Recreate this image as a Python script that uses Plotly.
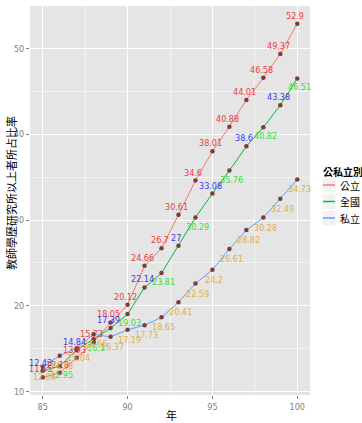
import plotly.graph_objects as go

years = list(range(85, 101))
series_names = ["公立", "全國", "私立"]
public = [11.65, 12.18, 13.93, 15.73, 18.05, 20.12, 24.66, 26.7, 30.61, 34.6,
          38.01, 40.88, 44.01, 46.58, 49.37, 52.9]
national = [12.43, 12.95, 14.84, 16.1, 17.39, 19.03, 22.14, 23.81, 27, 30.29,
            33.08, 35.76, 38.6, 40.82, 43.38, 46.51]
private = [12.86, 14.18, 15.04, 16.66, 16.37, 17.19, 17.73, 18.65, 20.41, 22.59,
           24.2, 26.61, 28.82, 30.28, 32.49, 34.73]
x_ticks = [85, 90, 95, 100]
y_ticks = [10, 20, 30, 40, 50]

LINE_COLORS = {"公立": "#F8766D", "全國": "#00BA38", "私立": "#619CFF"}
RED, BLUE, GREEN, GOLD = "#F03C3C", "#3C3CF0", "#3CDC3C", "#E0B048"
NUM_FONT = "Liberation Sans Narrow, DejaVu Sans Condensed, Arial Narrow, sans-serif"
CJK_FONT = "Noto Sans CJK TC, Noto Sans CJK SC, sans-serif"

values = {"公立": public, "全國": national, "私立": private}

fig = go.Figure()

for name in series_names:
    fig.add_trace(
        go.Scatter(
            x=years,
            y=values[name],
            mode="lines",
            line=dict(color=LINE_COLORS[name], width=1),
            showlegend=False,
            hoverinfo="skip",
        )
    )

for name in series_names:
    fig.add_trace(
        go.Scatter(
            x=years,
            y=values[name],
            mode="markers",
            marker=dict(color="#7D3C35", size=4.5),
            showlegend=False,
        )
    )

# value labels, colours recycled like the original
annotations = []
for name in series_names:
    for i, (yr, v) in enumerate(zip(years, values[name])):
        if name == "公立":
            color, xs, ys = RED, -2, 8
        elif name == "全國":
            if i % 2 == 0:
                color, xs, ys = BLUE, -2, 8
            else:
                color, xs, ys = GREEN, 2, -9
        else:
            color, xs, ys = GOLD, 2, -10
        annotations.append(
            dict(
                x=yr, y=v, text=f"{v:g}", showarrow=False,
                xshift=xs, yshift=ys, xanchor="center", yanchor="middle",
                font=dict(family=NUM_FONT, size=9, color=color),
            )
        )

# panel placement in pixels
PANEL_L, PANEL_W, PANEL_T, PANEL_H = 30, 280, 6, 389
PANEL_B = PANEL_T + PANEL_H


def px(xp):
    return (xp - PANEL_L) / PANEL_W


def py(yp):
    return (PANEL_B - yp) / PANEL_H


# axis titles
annotations.append(dict(
    x=px(171), y=py(415), xref="paper", yref="paper", text="年", showarrow=False,
    xanchor="center", yanchor="middle",
    font=dict(family=CJK_FONT, size=11, color="#000000"),
))
annotations.append(dict(
    x=px(11), y=py(193), xref="paper", yref="paper", text="教師學歷研究所以上者所占比率",
    textangle=-90, showarrow=False, xanchor="center", yanchor="middle",
    font=dict(family=CJK_FONT, size=11, color="#000000"),
))

# manual legend like ggplot's
annotations.append(dict(
    x=px(321), y=py(171), xref="paper", yref="paper", text="<b>公私立別</b>",
    showarrow=False, xanchor="left", yanchor="middle",
    font=dict(family=CJK_FONT, size=10, color="#000000"),
))
shapes = []
for k, name in enumerate(series_names):
    cy = 185 + k * 16.5
    shapes.append(dict(
        type="rect", xref="paper", yref="paper",
        x0=px(322), x1=px(336), y0=py(cy - 8), y1=py(cy + 8),
        fillcolor="#F2F2F2", line=dict(color="#FFFFFF", width=1),
    ))
    shapes.append(dict(
        type="line", xref="paper", yref="paper",
        x0=px(323), x1=px(335), y0=py(cy), y1=py(cy),
        line=dict(color=LINE_COLORS[name], width=1.5),
    ))
    annotations.append(dict(
        x=px(338), y=py(cy), xref="paper", yref="paper", text=name,
        showarrow=False, xanchor="left", yanchor="middle",
        font=dict(family=CJK_FONT, size=10, color="#000000"),
    ))

all_vals = public + national + private
lo, hi = min(all_vals), max(all_vals)
pad = (hi - lo) * 0.05
xpad = (years[-1] - years[0]) * 0.05

fig.update_layout(
    width=362,
    height=423,
    margin=dict(l=PANEL_L, r=362 - PANEL_L - PANEL_W, t=PANEL_T, b=423 - PANEL_B),
    plot_bgcolor="#E5E5E5",
    paper_bgcolor="#FFFFFF",
    annotations=annotations,
    shapes=shapes,
    showlegend=False,
    xaxis=dict(
        range=[years[0] - xpad, years[-1] + xpad],
        tickvals=x_ticks,
        ticks="outside", ticklen=3, tickcolor="#7F7F7F",
        tickfont=dict(family=NUM_FONT, size=9, color="#7F7F7F"),
        showgrid=True, gridcolor="#FFFFFF", gridwidth=1,
        minor=dict(tick0=82.5, dtick=5, showgrid=True, gridcolor="#F2F2F2", gridwidth=0.5),
        zeroline=False, showline=False, automargin=False,
    ),
    yaxis=dict(
        range=[lo - pad, hi + pad],
        tickvals=y_ticks,
        ticks="outside", ticklen=3, tickcolor="#7F7F7F",
        tickfont=dict(family=NUM_FONT, size=9, color="#7F7F7F"),
        showgrid=True, gridcolor="#FFFFFF", gridwidth=1,
        minor=dict(tick0=5, dtick=10, showgrid=True, gridcolor="#F2F2F2", gridwidth=0.5),
        zeroline=False, showline=False, automargin=False,
    ),
)

# drop the browser's default page margin so the figure sits at the corner
fig.write_html(
    "out.html",
    config={"displayModeBar": False},
    post_script="document.body.style.margin = '0px';",
)
